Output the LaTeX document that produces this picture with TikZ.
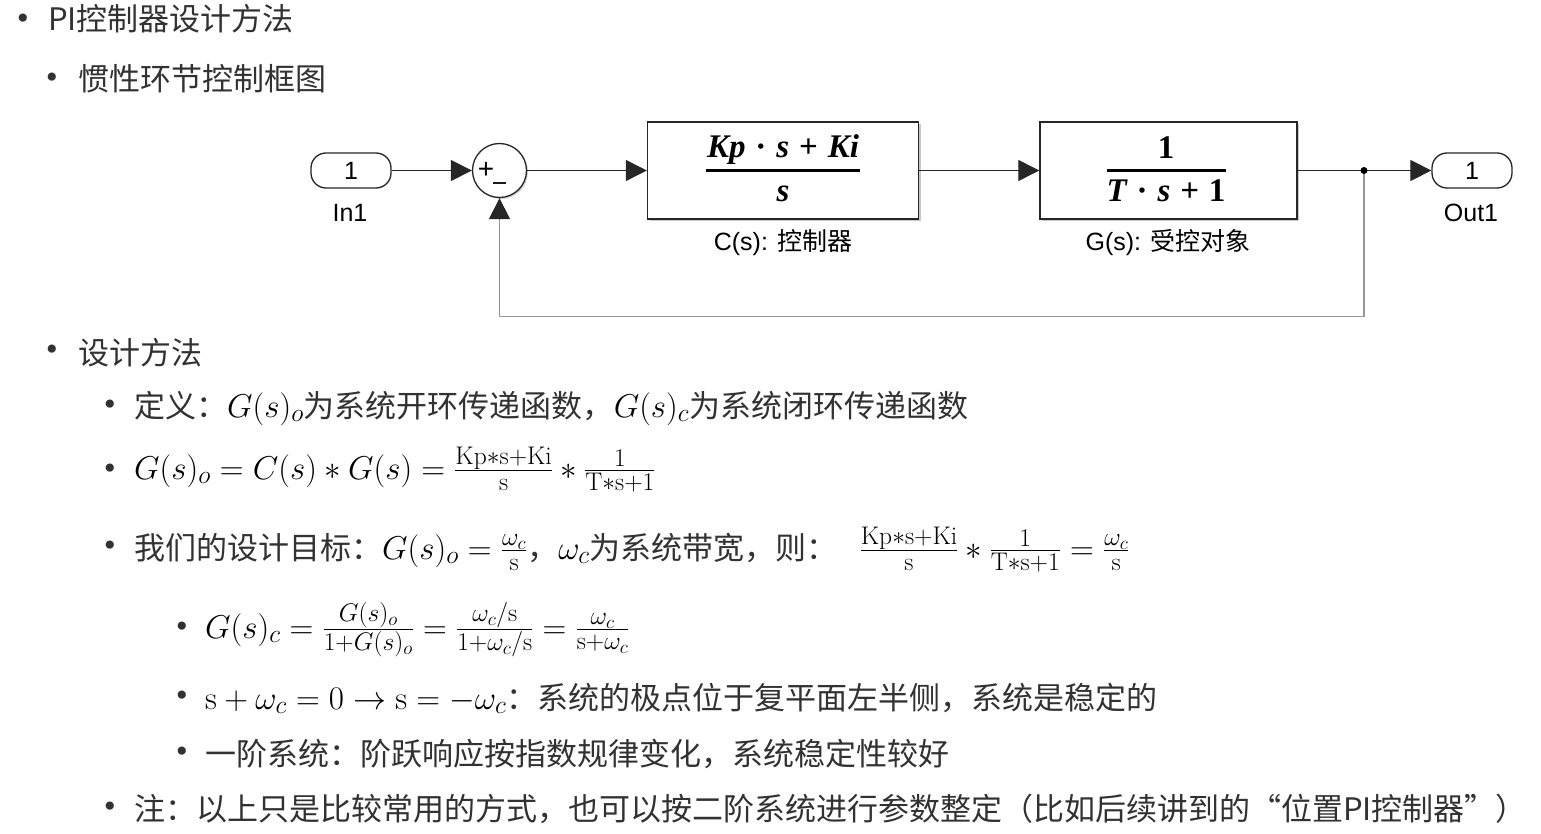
\RequirePackage{fix-cm}
\documentclass[tikz,border=0pt]{standalone}
\usepackage{fontspec}
\usepackage{amsmath}
\usetikzlibrary{arrows.meta,shadows}
\newfontfamily\cjk{Noto Sans CJK SC}
\newfontfamily\arialf{Liberation Sans}
\newfontfamily\tnr{Liberation Serif}
\newfontfamily\bulletf{DejaVu Sans}
\definecolor{textgray}{RGB}{50,50,50}
\definecolor{fbgray}{RGB}{150,150,150}
\DeclareMathSizes{33}{33}{25.5}{19}
\newcommand\mth[1]{{\color{black}\fontsize{33}{38}\selectfont$#1$}}
\newcommand\bsp{\hspace{0.3em}}
\begin{document}
\begin{tikzpicture}[x=1pt,y=-1pt,
  txt/.style={anchor=base west, inner sep=0pt, text=textgray, font=\cjk\fontsize{31}{36}\selectfont},
  bul/.style={inner sep=0pt, text=textgray, font=\bulletf\fontsize{28}{30}\selectfont},
  blockbox/.style={draw=black!85, line width=1.4pt, fill=white, minimum width=271pt, minimum height=97pt,
     drop shadow={shadow xshift=2pt, shadow yshift=-2pt, opacity=0.35, fill=black!60}},
  port/.style={draw=black!85, line width=1.3pt, rounded corners=15pt, minimum width=80pt, minimum height=35pt,
     inner sep=0pt, font=\arialf\fontsize{25}{30}\selectfont},
  lbl/.style={inner sep=0pt, font=\arialf\fontsize{25}{30}\selectfont},
  frac/.style={anchor=base, inner sep=0pt, font=\tnr\fontsize{33}{38}\selectfont\bfseries},
  conn/.style={draw=black!85, line width=1.2pt, -{Triangle[length=21pt,width=21pt]}},
  fb/.style={draw=fbgray, line width=1.2pt, -{Triangle[length=21pt,width=21pt,color=black!85]}}
]
\useasboundingbox (0,0) rectangle (1541,834);
\fill[white] (0,0) rectangle (1541,834);

% ---------- headings ----------
\node[bul] (b1) at (23,21) {•};
\node[txt] (t1) at (48,31) {PI控制器设计方法};
\node[bul] (b2) at (52,80) {•};
\node[txt] (t2) at (78,91) {惯性环节控制框图};

% ---------- block diagram ----------
\node[port] (in) at (351,170.5) {1};
\node[lbl] (inl) at (350,213) {In1};
\node[circle, draw=black!85, line width=1.3pt, minimum size=54pt, inner sep=0pt, fill=white,
      drop shadow={shadow xshift=1.5pt, shadow yshift=-1.5pt, opacity=0.3, fill=black!60}] (sum) at (499.5,170.5) {};
\node[inner sep=0pt, font=\arialf\fontsize{28}{30}\selectfont] (plus) at (486,170) {+};
\draw[line width=2.4pt, black!90] (493,183) -- (506,183);

\node[blockbox] (C) at (783,170.5) {};
\node[frac] (Cnum) at (783,158) {\itshape Kp\bsp{\upshape·}\bsp s\bsp{\upshape +}\bsp Ki};
\draw[line width=2.6pt] (706,170.5) -- (860,170.5);
\node[frac] (Cden) at (783,202) {\itshape s};
\node[lbl] (Cl) at (783,243) {C(s): {\cjk 控制器}};

\node[blockbox, minimum width=257pt] (G) at (1168.5,170.5) {};
\node[frac] (Gnum) at (1166,159) {1};
\node[frac] (Gden) at (1166,202) {{\itshape T}\bsp·\bsp{\itshape s}\bsp+\bsp1};
\draw[line width=2.6pt] (1107,170.5) -- (1226,170.5);
\node[lbl] (Gl) at (1168,243) {G(s): {\cjk 受控对象}};

\node[port] (out) at (1472,170.5) {1};
\node[lbl] (outl) at (1471,213) {Out1};

\coordinate (dot) at (1364,170.5);
\draw[conn] (in.east) -- (sum.west);
\draw[conn] (sum.east) -- (C.west);
\draw[conn] (C.east) -- (G.west);
\draw[draw=black!85, line width=1.2pt] (G.east) -- (dot);
\draw[conn] (dot) -- (out.west);
\draw[fb] (dot) -- ++(0,146) -| (sum.south);
\fill[black] (dot) circle (3.5pt);

% ---------- design method ----------
\node[bul] (b3) at (52,352) {•};
\node[txt] (t3) at (78,364) {设计方法};

\node[bul] (b4) at (110,407) {•};
\node[txt] (t4) at (134,417) {定义：\mth{G(s)_o}为系统开环传递函数，\mth{G(s)_c}为系统闭环传递函数};

\node[bul] (b5) at (110,471) {•};
\node[txt] (t5) at (134,479) {\mth{G(s)_o=C(s)*G(s)=\frac{\mathrm{Kp{*}s{+}Ki}}{\mathrm{s}}*\frac{1}{\mathrm{T{*}s{+}1}}}};

\node[bul] (b6) at (110,548) {•};
\node[txt] (t6) at (134,559) {我们的设计目标：\mth{G(s)_o=\frac{\omega_c}{\mathrm{s}}}，\mth{\omega_c}为系统带宽，则：\hspace{22pt}\mth{\frac{\mathrm{Kp{*}s{+}Ki}}{\mathrm{s}}*\frac{1}{\mathrm{T{*}s{+}1}}=\frac{\omega_c}{\mathrm{s}}}};

\node[bul] (b7) at (182,629) {•};
\node[txt] (t7) at (205,638) {\mth{G(s)_c=\frac{G(s)_o}{1+G(s)_o}=\frac{\omega_c/\mathrm{s}}{1+\omega_c/\mathrm{s}}=\frac{\omega_c}{\mathrm{s}+\omega_c}}};

\node[bul] (b8) at (182,698) {•};
\node[txt] (t8) at (205,709) {\mth{\mathrm{s}+\omega_c=0\rightarrow\mathrm{s}=-\omega_c}：系统的极点位于复平面左半侧，系统是稳定的};

\node[bul] (b9) at (182,754) {•};
\node[txt] (t9) at (205,765) {一阶系统：阶跃响应按指数规律变化，系统稳定性较好};

\node[bul] (b10) at (110,809) {•};
\node[txt] (t10) at (134,820) {注：以上只是比较常用的方式，也可以按二阶系统进行参数整定（比如后续讲到的“位置PI控制器”）};
\end{tikzpicture}
\end{document}
